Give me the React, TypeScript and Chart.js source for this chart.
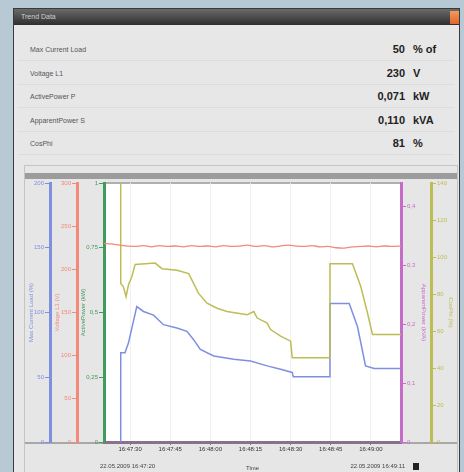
import React, { useEffect, useRef } from "react";
import { Chart, registerables } from "chart.js";

Chart.register(...registerables);

// ---- header readings ----
const readingLabels = ["Max Current Load", "Voltage L1", "ActivePower P", "ApparentPower S", "CosPhi"];
const readingValues = ["50", "230", "0,071", "0,110", "81"];
const readingUnits = ["% of", "V", "kW", "kVA", "%"];

// ---- time axis (seconds after 16:47:30) ----
const timeTicks = [0, 15, 30, 45, 60, 75, 90];
const timeTickLabels = ["16:47:30", "16:47:45", "16:48:00", "16:48:15", "16:48:30", "16:48:45", "16:49:00"];
const startLabel = "22.05.2009 16:47:20";
const endLabel = "22.05.2009 16:49:11";

// ---- series: [seconds, value] ----
const currentLoad: [number, number][] = [
  [-3.5, 0], [-3.5, 69], [-1.9, 69], [-0.6, 76.6], [2.5, 104.6], [5, 100.8], [8.75, 98],
  [12.5, 90.6], [17.5, 88], [21.25, 85.5], [23.75, 79], [26.25, 71.5], [31.25, 66.4],
  [38.75, 63.9], [45, 62.6], [51.25, 58.8], [56.25, 56.2], [60.6, 53.7], [61, 50.4],
  [74.4, 50.4], [74.7, 107], [81.9, 107], [85, 89], [88, 58.8], [91.25, 56.7], [101.9, 56.7],
];

const voltageL1: [number, number][] = [
  [-9.75, 230], [-7, 229.5], [-4, 228], [-1, 227], [2, 226.5], [5, 227.5], [8, 226],
  [11, 227.5], [14, 226.5], [17, 227], [20, 226], [23, 227.5], [26, 226.5], [29, 227],
  [32, 226], [35, 227.5], [38, 226.5], [41, 227], [44, 228], [47, 226.5], [50, 227.5],
  [53, 226], [56, 227], [59, 228], [62, 227], [65, 226.5], [68, 227.5], [71, 226],
  [74, 226.5], [77, 225], [80, 224.5], [83, 226], [86, 226.5], [89, 227], [92, 226],
  [95, 227], [98, 226.5], [101.5, 227],
];

const cosPhi: [number, number][] = [
  [-3.5, 140], [-3.5, 85.7], [-2.5, 83.9], [-1.5, 78.5], [-0.6, 85], [0.6, 89.2], [1.9, 96],
  [9.4, 96.7], [11.9, 93.7], [17.5, 92.8], [21.9, 91], [25.6, 80.3], [28.75, 75],
  [32.5, 72.3], [36.25, 70.5], [43.75, 68.8], [46.25, 70.5], [47.5, 67], [51.25, 64.3],
  [52.5, 60.8], [56.25, 57.2], [60, 54.5], [60.6, 45.6], [74.4, 45.6], [74.7, 96.3],
  [83.1, 96.3], [86.25, 83.9], [88.75, 69.6], [90.6, 58.1], [101.9, 58.1],
];

const BLUE = "#7f8fe0";
const RED = "#f2897a";
const GREEN = "#3f9a5c";
const MAGENTA = "#c46cc8";
const OLIVE = "#bdbd55";
const FONT = '"Liberation Sans", Arial, sans-serif';

const fmt = (v: number) => String(Math.round(v * 100) / 100).replace(".", ",");

function yAxis(
  color: string,
  position: "left" | "right",
  weight: number,
  width: number,
  min: number,
  max: number,
  step: number,
  title: string,
  titlePad: number,
  includeBounds = true
) {
  return {
    type: "linear" as const,
    position,
    weight,
    min,
    max,
    afterFit: (s: any) => {
      s.width = width;
    },
    border: { color, width: 3 },
    grid: { drawOnChartArea: false, color, tickColor: color, tickLength: 5 },
    ticks: {
      stepSize: step,
      includeBounds,
      color,
      padding: 1,
      font: { family: FONT, size: 6 },
      callback: (v: any) => fmt(Number(v)),
    },
    title: {
      display: true,
      text: title,
      color,
      padding: titlePad,
      font: { family: FONT, size: 6 },
    },
  };
}

const framePlugin = {
  id: "frameDecor",
  beforeDraw(chart: any) {
    const { ctx, chartArea, width } = chart;
    ctx.save();
    ctx.fillStyle = "#e6e6e6";
    ctx.fillRect(0, 0, width, chart.height);
    ctx.fillStyle = "#ffffff";
    ctx.fillRect(chartArea.left, chartArea.top, chartArea.right - chartArea.left, chartArea.bottom - chartArea.top);
    ctx.fillStyle = "#9c9c9c";
    ctx.fillRect(0, 1, width, 6);
    ctx.fillStyle = "#b0b0b0";
    ctx.fillRect(chartArea.left, chartArea.top - 1, chartArea.right - chartArea.left, 2);
    ctx.fillStyle = "#a8a8a8";
    ctx.fillRect(0, chartArea.bottom, chartArea.left, 2);
    ctx.fillRect(chartArea.right, chartArea.bottom, width - chartArea.right, 2);
    ctx.restore();
  },
  afterDraw(chart: any) {
    const { ctx } = chart;
    const x = chart.scales.x;
    ctx.save();
    ctx.font = `6px ${FONT}`;
    ctx.fillStyle = "#444";
    ctx.textBaseline = "middle";
    const y = chart.height - 6;
    ctx.textAlign = "left";
    ctx.fillText(startLabel, x.left - 4, y);
    ctx.textAlign = "right";
    ctx.fillText(endLabel, x.right + 4, y);
    ctx.fillStyle = "#222";
    ctx.fillRect(x.right + 12, y - 3, 6, 7);
    ctx.restore();
  },
};

function TrendChart() {
  const ref = useRef<HTMLCanvasElement | null>(null);
  useEffect(() => {
    if (!ref.current) return;
    const toXY = (a: [number, number][]) => a.map(([x, y]) => ({ x, y }));
    const chart = new Chart(ref.current, {
      type: "line",
      data: {
        datasets: [
          { label: "Voltage L1", data: toXY(voltageL1), yAxisID: "yV", borderColor: RED, borderWidth: 1.3, pointRadius: 0, tension: 0.3 },
          { label: "Cos Phi", data: toXY(cosPhi), yAxisID: "yC", borderColor: OLIVE, borderWidth: 1.5, pointRadius: 0 },
          { label: "Max Current Load", data: toXY(currentLoad), yAxisID: "yI", borderColor: BLUE, borderWidth: 1.5, pointRadius: 0 },
        ],
      },
      options: {
        animation: false,
        responsive: false,
        maintainAspectRatio: false,
        parsing: { xAxisKey: "x", yAxisKey: "y" } as any,
        layout: { padding: { top: 11, left: 0, right: 0, bottom: 0 } },
        plugins: { legend: { display: false }, tooltip: { enabled: false } },
        scales: {
          x: {
            type: "linear",
            min: -9.75,
            max: 101.25,
            afterFit: (s: any) => {
              s.height = 30;
            },
            afterBuildTicks: (axis: any) => {
              axis.ticks = timeTicks.map((v) => ({ value: v }));
            },
            border: { color: "#8a6f8f", width: 3 },
            grid: { color: "#f1f1f1", tickColor: "#777", tickLength: 3 },
            ticks: {
              color: "#333",
              padding: 1,
              maxRotation: 0,
              autoSkip: false,
              font: { family: FONT, size: 6 },
              callback: (_v: any, i: number) => timeTickLabels[i],
            },
            title: { display: true, text: "Time", color: "#444", padding: { top: 6, bottom: 0 }, font: { family: FONT, size: 6 } },
          },
          yI: yAxis(BLUE, "left", 3, 25, 0, 200, 50, "Max Current Load (%)", 3),
          yV: yAxis(RED, "left", 2, 27, 0, 300, 50, "Voltage L1 (V)", 4),
          yP: yAxis(GREEN, "left", 1, 27, 0, 1, 0.25, "ActivePower (kW)", 3),
          yS: yAxis(MAGENTA, "right", 1, 30, 0, 0.44, 0.1, "ApparentPower (kVA)", 4, false),
          yC: yAxis(OLIVE, "right", 2, 26, 0, 140, 20, "CosPhi (%)", 3),
        } as any,
      },
      plugins: [framePlugin],
    });
    return () => chart.destroy();
  }, []);
  return <canvas ref={ref} width={432} height={300} style={{ display: "block", width: 432, height: 300 }} />;
}

export default function App() {
  return (
    <div
      style={{
        position: "fixed",
        left: 0,
        top: 0,
        width: 464,
        height: 472,
        background: "#b7c9d5",
        overflow: "hidden",
        fontFamily: FONT,
      }}
    >
      <div
        style={{
          position: "absolute",
          left: 13,
          top: 8,
          width: 447,
          height: 470,
          background: "#e7e7e7",
          border: "1px solid #3a3a3a",
          boxSizing: "border-box",
        }}
      >
        <div
          style={{
            position: "absolute",
            left: 0,
            top: 0,
            right: 0,
            height: 16,
            background: "linear-gradient(#6a6a6a, #2e2e2e)",
            color: "#d0d0d0",
            fontSize: 7,
            lineHeight: "16px",
            paddingLeft: 7,
          }}
        >
          Trend Data
        </div>
        <div
          style={{
            position: "absolute",
            right: 0,
            top: 2,
            width: 9,
            height: 13,
            background: "linear-gradient(#f39a5c, #e0662a)",
          }}
        />
      </div>
      {readingLabels.map((lab, i) => (
        <div
          key={lab}
          style={{
            position: "absolute",
            left: 18,
            width: 436,
            top: 38 + i * 23.5,
            height: 23,
            borderBottom: "1px solid #dcdcdc",
            boxSizing: "border-box",
          }}
        >
          <span style={{ position: "absolute", left: 12, top: 7, fontSize: 7, color: "#555", lineHeight: "10px" }}>{lab}</span>
          <span
            style={{
              position: "absolute",
              right: 49,
              top: 5,
              fontSize: 11,
              fontWeight: "bold",
              color: "#222",
              lineHeight: "13px",
            }}
          >
            {readingValues[i]}
          </span>
          <span
            style={{
              position: "absolute",
              left: 395,
              top: 5,
              fontSize: 11,
              fontWeight: "bold",
              color: "#222",
              lineHeight: "13px",
            }}
          >
            {readingUnits[i]}
          </span>
        </div>
      ))}
      <div
        style={{
          position: "absolute",
          left: 24,
          top: 165,
          width: 434,
          height: 310,
          border: "1px solid #c4c4c4",
          boxSizing: "border-box",
        }}
      />
      <div style={{ position: "absolute", left: 25, top: 172 }}>
        <TrendChart />
      </div>
    </div>
  );
}
